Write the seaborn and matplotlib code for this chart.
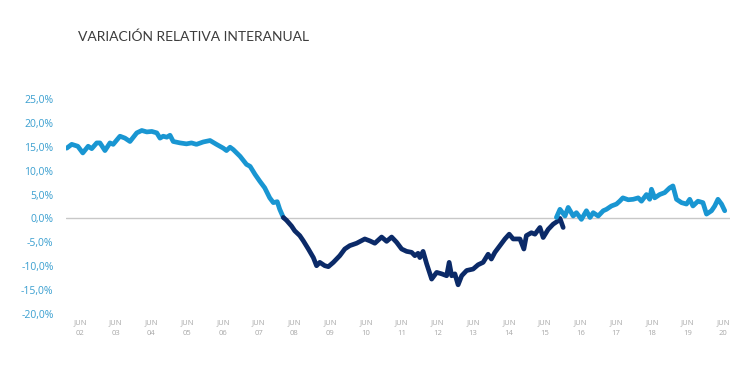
import pandas as pd
import seaborn as sns
import matplotlib.pyplot as plt

# time in years (JUN of each year sits at year + 0.5), values in %
pre_t = [2002.13, 2002.27, 2002.44, 2002.58, 2002.73, 2002.83, 2002.97, 2003.06, 2003.20, 2003.34,
         2003.43, 2003.62, 2003.76, 2003.90, 2004.09, 2004.23, 2004.37, 2004.51, 2004.65, 2004.74,
         2004.83, 2004.93, 2005.02, 2005.11, 2005.30, 2005.48, 2005.62, 2005.76, 2005.95, 2006.14,
         2006.32, 2006.51, 2006.60, 2006.70, 2006.79, 2006.98, 2007.16, 2007.26, 2007.40, 2007.53,
         2007.67, 2007.81, 2007.91, 2008.02, 2008.09, 2008.19]
pre_v = [14.7, 15.5, 15.1, 13.7, 15.1, 14.6, 15.8, 15.8, 14.2, 15.8,
         15.5, 17.2, 16.8, 16.1, 17.9, 18.4, 18.1, 18.2, 17.9, 16.8,
         17.2, 17.0, 17.4, 16.1, 15.8, 15.6, 15.8, 15.5, 16.0, 16.3,
         15.5, 14.7, 14.2, 14.9, 14.4, 13.0, 11.3, 10.9, 9.2, 7.8,
         6.4, 4.3, 3.3, 3.5, 1.9, 0.2]

crisis_t = [2008.19, 2008.28, 2008.42, 2008.51, 2008.65, 2008.75, 2008.89, 2009.03, 2009.12, 2009.21,
            2009.35, 2009.45, 2009.59, 2009.77, 2009.91, 2010.05, 2010.24, 2010.47, 2010.61, 2010.75,
            2010.94, 2011.08, 2011.22, 2011.36, 2011.50, 2011.64, 2011.78, 2011.87, 2011.96, 2012.01,
            2012.10, 2012.20, 2012.34, 2012.48, 2012.62, 2012.76, 2012.83, 2012.90, 2012.99, 2013.08,
            2013.18, 2013.32, 2013.50, 2013.64, 2013.78, 2013.92, 2014.01, 2014.11, 2014.25, 2014.39,
            2014.51, 2014.62, 2014.81, 2014.92, 2014.99, 2015.13, 2015.23, 2015.37, 2015.46, 2015.60,
            2015.74, 2015.88, 2015.93, 2016.02]
crisis_v = [0.2, -0.4, -1.6, -2.6, -3.6, -4.7, -6.4, -8.2, -9.9, -9.2,
            -9.9, -10.1, -9.2, -7.8, -6.4, -5.7, -5.2, -4.3, -4.7, -5.2,
            -3.9, -4.8, -3.9, -5.0, -6.4, -6.9, -7.1, -7.8, -7.3, -8.2,
            -6.9, -9.5, -12.7, -11.3, -11.6, -12.0, -9.2, -12.0, -11.6, -13.9,
            -12.0, -10.9, -10.6, -9.7, -9.2, -7.5, -8.5, -7.1, -5.7, -4.3,
            -3.3, -4.3, -4.3, -6.4, -3.6, -3.0, -3.3, -1.9, -4.0, -2.3,
            -1.2, -0.5, 0.0, -1.9]

post_t = [2015.83, 2015.93, 2016.07, 2016.16, 2016.30, 2016.39, 2016.53, 2016.67, 2016.77, 2016.86,
          2017.00, 2017.14, 2017.23, 2017.37, 2017.51, 2017.60, 2017.69, 2017.84, 2017.98, 2018.12,
          2018.21, 2018.35, 2018.44, 2018.49, 2018.58, 2018.72, 2018.86, 2019.00, 2019.09, 2019.19,
          2019.33, 2019.47, 2019.56, 2019.65, 2019.79, 2019.93, 2020.03, 2020.17, 2020.26, 2020.35,
          2020.45, 2020.54]
post_v = [0.2, 1.9, 0.5, 2.3, 0.5, 1.2, -0.2, 1.6, 0.2, 1.2,
          0.5, 1.6, 1.9, 2.6, 3.0, 3.6, 4.3, 3.9, 4.0, 4.3,
          3.6, 5.0, 4.0, 6.1, 4.3, 5.0, 5.4, 6.4, 6.8, 4.0,
          3.3, 3.0, 4.0, 2.6, 3.6, 3.3, 0.9, 1.6, 2.6, 4.0,
          3.0, 1.6]

tick_years = list(range(2002, 2021))
y_ticks = [25, 20, 15, 10, 5, 0, -5, -10, -15, -20]

light = "#1996d2"
dark = "#0b2a68"

sns.set_style("white")
plt.rcParams['font.family'] = ['Open Sans', 'DejaVu Sans']

fig = plt.figure(figsize=(7.5, 3.72), dpi=100)
ax = fig.add_axes([0.088, 0.156, 0.885, 0.578])

ax.axhline(0, color="#c8c8c8", lw=1.0, zorder=1)

for t, v, c in [(pre_t, pre_v, light), (crisis_t, crisis_v, dark), (post_t, post_v, light)]:
    df = pd.DataFrame({"t": t, "v": v})
    sns.lineplot(data=df, x="t", y="v", color=c, lw=3.4, ax=ax, zorder=3,
                 solid_joinstyle="round", solid_capstyle="round")

ax.set_xlim(2002.11, 2020.68)
ax.set_ylim(-20, 25)
ax.set_xticks([y + 0.5 for y in tick_years])
ax.set_xticklabels([f"JUN\n{y % 100:02d}" for y in tick_years], fontsize=5.5,
                   color="#a8a8a8", linespacing=1.6)
ax.set_yticks(y_ticks)
ax.set_yticklabels([f"{v:.1f}%".replace(".", ",") for v in y_ticks], fontsize=7.5,
                   color="#3a9fd0")
ax.tick_params(axis="y", length=0, pad=9)
ax.tick_params(axis="x", length=0, pad=4)
ax.set_xlabel("")
ax.set_ylabel("")
sns.despine(ax=ax, left=True, bottom=True)

fig.text(0.104, 0.90, "VARIACIÓN RELATIVA INTERANUAL", fontsize=10, color="#3c3c3c",
         va="center", ha="left", family=['Lato', 'DejaVu Sans'])

fig.savefig("out.png", dpi=100, facecolor="white")
